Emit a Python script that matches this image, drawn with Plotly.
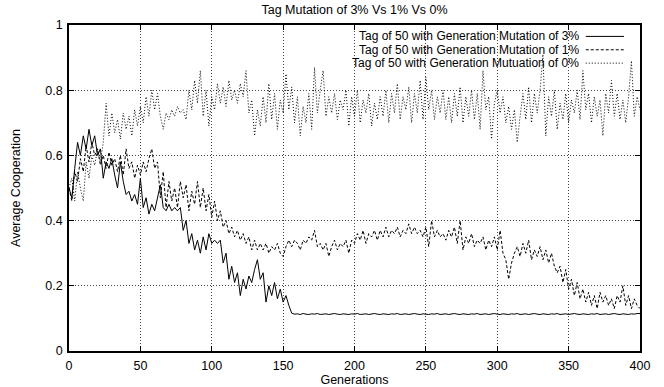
import plotly.graph_objects as go

generations = list(range(0, 401, 2))

mut_3 = [
    0.50, 0.47, 0.56, 0.64, 0.60, 0.66, 0.62, 0.68, 0.63, 0.66,
    0.60, 0.62, 0.53, 0.58, 0.56, 0.59, 0.54, 0.50, 0.58, 0.52,
    0.48, 0.49, 0.46, 0.48, 0.45, 0.53, 0.44, 0.47, 0.42, 0.45,
    0.43, 0.47, 0.51, 0.44, 0.43, 0.45, 0.43, 0.44, 0.43, 0.44,
    0.37, 0.40, 0.33, 0.36, 0.31, 0.34, 0.30, 0.35, 0.31, 0.36,
    0.33, 0.34, 0.33, 0.34, 0.27, 0.30, 0.22, 0.26, 0.21, 0.24,
    0.17, 0.22, 0.19, 0.23, 0.21, 0.25, 0.28, 0.22, 0.24, 0.15,
    0.20, 0.17, 0.21, 0.16, 0.19, 0.15, 0.17, 0.14, 0.116, 0.113,
    0.114, 0.112, 0.115, 0.113, 0.112, 0.114, 0.113, 0.115, 0.112, 0.113,
    0.114, 0.112, 0.113, 0.115, 0.113, 0.112, 0.114, 0.113, 0.112, 0.114,
    0.113, 0.115, 0.112, 0.113, 0.114, 0.112, 0.113, 0.115, 0.113, 0.112,
    0.114, 0.113, 0.112, 0.114, 0.113, 0.115, 0.112, 0.113, 0.114, 0.112,
    0.113, 0.115, 0.113, 0.112, 0.114, 0.113, 0.112, 0.114, 0.113, 0.115,
    0.112, 0.113, 0.114, 0.112, 0.113, 0.115, 0.113, 0.112, 0.114, 0.113,
    0.112, 0.114, 0.113, 0.115, 0.112, 0.113, 0.114, 0.112, 0.113, 0.115,
    0.113, 0.112, 0.114, 0.113, 0.112, 0.114, 0.113, 0.115, 0.112, 0.113,
    0.114, 0.112, 0.113, 0.115, 0.113, 0.112, 0.114, 0.113, 0.112, 0.114,
    0.113, 0.115, 0.112, 0.113, 0.114, 0.112, 0.113, 0.115, 0.113, 0.112,
    0.114, 0.113, 0.112, 0.114, 0.113, 0.115, 0.112, 0.113, 0.114, 0.112,
    0.113, 0.115, 0.113, 0.112, 0.114, 0.113, 0.112, 0.114, 0.113, 0.115,
    0.115,
]

mut_1 = [
    0.50, 0.46, 0.55, 0.52, 0.59, 0.55, 0.63, 0.58, 0.64, 0.60,
    0.62, 0.57, 0.60, 0.56, 0.61, 0.57, 0.59, 0.55, 0.60, 0.54,
    0.62, 0.56, 0.58, 0.53, 0.57, 0.54, 0.58, 0.55, 0.59, 0.62,
    0.56, 0.58, 0.47, 0.55, 0.44, 0.52, 0.46, 0.50, 0.44, 0.52,
    0.47, 0.51, 0.43, 0.49, 0.45, 0.52, 0.44, 0.50, 0.43, 0.48,
    0.41, 0.46, 0.40, 0.43, 0.38, 0.40, 0.36, 0.38, 0.35, 0.37,
    0.34, 0.36, 0.33, 0.35, 0.31, 0.34, 0.31, 0.33, 0.31, 0.33,
    0.30, 0.32, 0.31, 0.33, 0.30, 0.29, 0.32, 0.34, 0.32, 0.34,
    0.33, 0.31, 0.34, 0.33, 0.35, 0.34, 0.37, 0.32, 0.33, 0.31,
    0.33, 0.29, 0.32, 0.34, 0.31, 0.33, 0.32, 0.34, 0.30, 0.34,
    0.33, 0.36, 0.34, 0.37, 0.33, 0.36, 0.35, 0.37, 0.34, 0.37,
    0.35, 0.38, 0.35, 0.37, 0.36, 0.38, 0.35, 0.37, 0.36, 0.39,
    0.36, 0.38, 0.36, 0.37, 0.35, 0.38, 0.32, 0.40, 0.35, 0.37,
    0.35, 0.36, 0.34, 0.37, 0.35, 0.38, 0.33, 0.40, 0.31, 0.35,
    0.33, 0.36, 0.32, 0.34, 0.33, 0.35, 0.31, 0.34, 0.32, 0.35,
    0.31, 0.37, 0.30, 0.28, 0.22, 0.27, 0.30, 0.32, 0.29, 0.33,
    0.30, 0.34, 0.28, 0.31, 0.29, 0.32, 0.28, 0.31, 0.27, 0.30,
    0.26, 0.24, 0.26, 0.21, 0.25, 0.19, 0.22, 0.17, 0.21, 0.16,
    0.19, 0.15, 0.18, 0.14, 0.17, 0.13, 0.18, 0.15, 0.17, 0.14,
    0.16, 0.13, 0.17, 0.15, 0.20, 0.14, 0.17, 0.13, 0.16, 0.14,
    0.13,
]

mut_0 = [
    0.50, 0.53, 0.46, 0.55, 0.50, 0.46, 0.58, 0.53, 0.60, 0.57,
    0.62, 0.58, 0.64, 0.76, 0.66, 0.73, 0.67, 0.71, 0.65, 0.73,
    0.68, 0.72, 0.66, 0.74, 0.69, 0.75, 0.70, 0.78, 0.72, 0.80,
    0.74, 0.79, 0.72, 0.68, 0.73, 0.71, 0.74, 0.72, 0.75, 0.73,
    0.74, 0.71, 0.80, 0.74, 0.83, 0.76, 0.86, 0.72, 0.80, 0.69,
    0.78, 0.74, 0.82, 0.76, 0.81, 0.75, 0.83, 0.77, 0.80, 0.76,
    0.82, 0.78, 0.86, 0.73, 0.77, 0.66, 0.74, 0.69, 0.78, 0.70,
    0.82, 0.71, 0.79, 0.68, 0.77, 0.73, 0.85, 0.74, 0.81, 0.70,
    0.78, 0.66, 0.75, 0.70, 0.79, 0.68, 0.87, 0.73, 0.80, 0.86,
    0.72, 0.78, 0.73, 0.79, 0.71, 0.77, 0.74, 0.80, 0.69, 0.78,
    0.72, 0.80, 0.70, 0.77, 0.73, 0.79, 0.69, 0.76, 0.71, 0.78,
    0.72, 0.80, 0.70, 0.79, 0.73, 0.82, 0.71, 0.78, 0.74, 0.81,
    0.70, 0.79, 0.73, 0.83, 0.71, 0.84, 0.74, 0.80, 0.71, 0.78,
    0.73, 0.80, 0.71, 0.78, 0.70, 0.79, 0.72, 0.81, 0.70, 0.78,
    0.72, 0.80, 0.71, 0.79, 0.68, 0.86, 0.74, 0.78, 0.65, 0.76,
    0.80, 0.73, 0.78, 0.70, 0.75, 0.68, 0.74, 0.64, 0.72, 0.79,
    0.71, 0.81, 0.70, 0.79, 0.73, 0.80, 0.91, 0.66, 0.78, 0.72,
    0.80, 0.68, 0.76, 0.71, 0.79, 0.70, 0.77, 0.73, 0.80, 0.71,
    0.86, 0.74, 0.79, 0.70, 0.78, 0.72, 0.77, 0.66, 0.79, 0.73,
    0.83, 0.72, 0.79, 0.71, 0.77, 0.70, 0.78, 0.89, 0.72, 0.78,
    0.74,
]

series_names = [
    "Tag of 50 with Generation Mutation of 3%",
    "Tag of 50 with Generation Mutation of 1%",
    "Tag of 50 with Generation Mutuation of 0%",
]
series_values = [mut_3, mut_1, mut_0]
series_dash = ["solid", "3px,2px", "1px,2px"]

x_ticks = [0, 50, 100, 150, 200, 250, 300, 350, 400]
y_ticks = [0, 0.2, 0.4, 0.6, 0.8, 1]
y_tick_text = ["0", "0.2", "0.4", "0.6", "0.8", "1"]

FONT = "Liberation Sans, Arial, Helvetica, sans-serif"
FS = 12.5
LEG_FS = 12

fig = go.Figure()
for name, vals, dash in zip(series_names, series_values, series_dash):
    fig.add_trace(go.Scatter(
        x=generations, y=vals, mode="lines", name=name,
        line=dict(color="black", width=1, dash=dash),
        showlegend=False,
    ))

# legend drawn gnuplot-style: right-aligned text, line sample on right
row_y = [0.965, 0.924, 0.883]
for name, dash, ry in zip(series_names, series_dash, row_y):
    fig.add_annotation(
        x=0.895, y=ry, xref="paper", yref="paper", text=name,
        showarrow=False, xanchor="right", yanchor="middle", borderpad=0,
        font=dict(family=FONT, size=LEG_FS, color="black"),
    )
    fig.add_shape(
        type="line", xref="paper", yref="paper",
        x0=0.905, x1=0.972, y0=ry, y1=ry,
        line=dict(color="black", width=1, dash=dash),
    )

axis_common = dict(
    showline=True, linecolor="black", linewidth=1.5, mirror="allticks",
    ticks="inside", ticklen=5, tickcolor="black", tickwidth=1,
    showgrid=True, gridcolor="#444", gridwidth=1, griddash="1px,2px",
    zeroline=False, automargin=False,
    tickfont=dict(family=FONT, size=FS, color="black"),
)

fig.update_xaxes(
    range=[0, 400], tickvals=x_ticks, ticklabelstandoff=2,
    title=dict(text="Generations", font=dict(family=FONT, size=FS, color="black"), standoff=4),
    **axis_common,
)
fig.update_yaxes(
    range=[0, 1], tickvals=y_ticks, ticktext=y_tick_text, ticklabelstandoff=2,
    title=dict(text="Average Cooperation", font=dict(family=FONT, size=FS, color="black"), standoff=22),
    **axis_common,
)

fig.update_layout(
    width=664, height=387,
    margin=dict(l=69, r=24, t=25, b=36),
    paper_bgcolor="white", plot_bgcolor="white",
    title=dict(
        text="Tag Mutation of 3% Vs 1% Vs 0%", x=0.534, xanchor="center",
        y=1 - 10 / 387, yanchor="middle", yref="container",
        font=dict(family=FONT, size=FS, color="black"),
    ),
)

fig.write_html("out.html")
